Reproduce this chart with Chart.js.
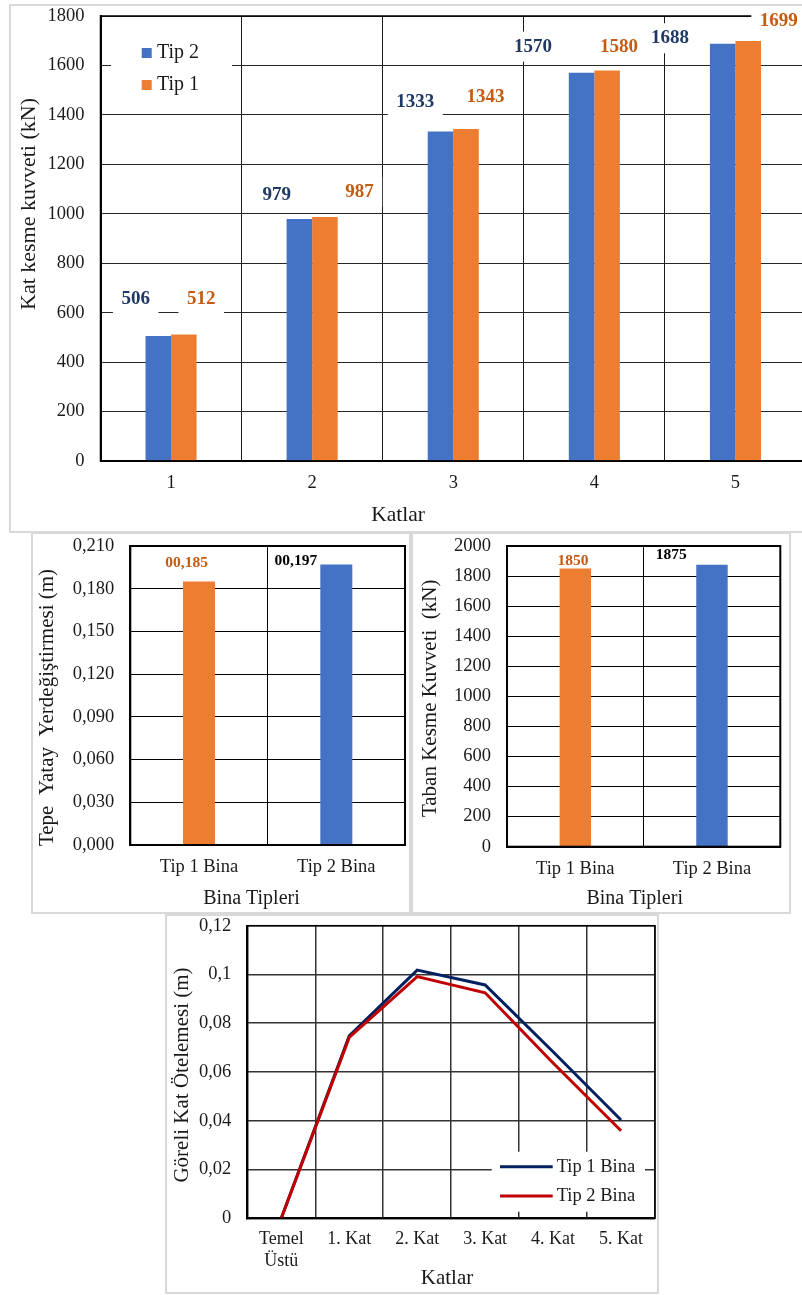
<!DOCTYPE html>
<html>
<head>
<meta charset="utf-8">
<title>Kat kesme kuvvetleri ve ötelemeler</title>
<script src="https://cdn.jsdelivr.net/npm/chart.js@4.4.1/dist/chart.umd.min.js"></script>
<style>
  html, body { margin: 0; padding: 0; background: #fff; }
  body { width: 802px; height: 1295px; overflow: hidden; position: relative; }
  .panel { position: absolute; box-sizing: border-box; border: 2px solid #d9d9d9; background: #fff; }
  .panel canvas { position: absolute; left: 0; top: 0; }
</style>
</head>
<body>
<div class="panel" style="left:9px;top:4px;width:820px;height:529px"><canvas id="storeyShear" width="816" height="525"></canvas></div>
<div class="panel" style="left:31px;top:532px;width:380px;height:382px"><canvas id="topDisp" width="376" height="378"></canvas></div>
<div class="panel" style="left:411px;top:532px;width:380px;height:382px"><canvas id="baseShear" width="376" height="378"></canvas></div>
<div class="panel" style="left:165px;top:914px;width:494px;height:380px"><canvas id="drift" width="490" height="376"></canvas></div>

<script>
// ---- data ----
const storeys = ['1', '2', '3', '4', '5'];
const shearTip2 = [506, 979, 1333, 1570, 1688];
const shearTip1 = [512, 987, 1343, 1580, 1699];
const shearTicks = ['0', '200', '400', '600', '800', '1000', '1200', '1400', '1600', '1800'];

const buildingTypes = ['Tip 1 Bina', 'Tip 2 Bina'];
const topDisplacement = [0.185, 0.197];
const topDispTicks = ['0,000', '0,030', '0,060', '0,090', '0,120', '0,150', '0,180', '0,210'];

const baseShear = [1850, 1875];
const baseShearTicks = ['0', '200', '400', '600', '800', '1000', '1200', '1400', '1600', '1800', '2000'];

const driftLevels = [['Temel', 'Üstü'], '1. Kat', '2. Kat', '3. Kat', '4. Kat', '5. Kat'];
const driftTip1 = [0, 0.0748, 0.1018, 0.0957, 0.0683, 0.0403];
const driftTip2 = [0, 0.0742, 0.0991, 0.0925, 0.0637, 0.0359];
const driftTicks = ['0', '0,02', '0,04', '0,06', '0,08', '0,1', '0,12'];

// ---- styling ----
const SERIF = "'Liberation Serif', 'Times New Roman', serif";
const BLUE = '#4472C4', ORANGE = '#ED7D31';
const NAVY_TXT = '#1F3864', ORANGE_TXT = '#C55A11';
Chart.defaults.font.family = SERIF;
Chart.defaults.color = '#1a1a1a';

// value label nudges (px) relative to the top centre of each bar
const shearLabelShift = [
  [[-22.6, -36.6], [-22.7, -24], [-25.2, -29.8], [-48.7, -26.2], [-52.7, -5.4]],
  [[17.4, -35.1], [34.5, -25.3], [19.5, -32.3], [12, -23.7], [30.6, -20]]
];
const dispLabelShift = [[[-12.3, -18.3], [-40.4, -3.5]]];
const baseLabelShift = [[[-2.3, -7.8], [-40.7, -9.8]]];

function fixW(w) { return s => { s.width = w; s.paddingTop = 0; s.paddingBottom = 0; }; }
function fixH(h) { return s => { s.height = h; s.paddingLeft = 0; s.paddingRight = 0; }; }
function tickFrom(list) { return (v, i) => (list[i] !== undefined ? list[i] : v); }

// outline, floating legend, value labels and axis titles
function decor(cfg) {
  return {
    id: 'decor',
    afterDatasetsDraw(chart) {
      const ctx = chart.ctx, a = chart.chartArea;
      ctx.save();
      if (cfg.outline) {
        ctx.strokeStyle = '#000';
        ctx.lineWidth = cfg.outline;
        ctx.strokeRect(a.left, a.top, a.right - a.left, a.bottom - a.top);
      }
      if (cfg.legend) {
        const L = cfg.legend;
        ctx.fillStyle = '#fff';
        ctx.fillRect(L.box[0], L.box[1], L.box[2], L.box[3]);
        ctx.font = L.size + 'px ' + SERIF;
        ctx.textAlign = 'left';
        ctx.textBaseline = 'middle';
        L.items.forEach(it => {
          if (it.kind === 'square') {
            ctx.fillStyle = it.color;
            ctx.fillRect(it.x, it.y - 5, 10, 10);
          } else {
            ctx.strokeStyle = it.color;
            ctx.lineWidth = 3;
            ctx.beginPath();
            ctx.moveTo(it.x, it.y);
            ctx.lineTo(it.x + it.len, it.y);
            ctx.stroke();
          }
          ctx.fillStyle = '#1a1a1a';
          ctx.fillText(it.text, it.tx, it.y);
        });
      }
      if (cfg.values) {
        const V = cfg.values;
        ctx.font = 'bold ' + V.size + 'px ' + SERIF;
        ctx.textAlign = 'center';
        ctx.textBaseline = 'middle';
        chart.data.datasets.forEach((ds, d) => {
          chart.getDatasetMeta(d).data.forEach((el, i) => {
            const sh = V.shift[d][i];
            const x = el.x + sh[0], y = el.y + sh[1];
            const txt = V.format(ds.data[i]);
            if (V.box) {
              const w = ctx.measureText(txt).width + 17;
              ctx.fillStyle = '#fff';
              ctx.fillRect(x - w / 2, y - 15, w, 30);
            }
            ctx.fillStyle = V.color(d, i);
            ctx.fillText(txt, x, y);
          });
        });
      }
      (cfg.titles || []).forEach(t => {
        ctx.save();
        ctx.font = t.size + 'px ' + SERIF;
        ctx.fillStyle = '#1a1a1a';
        ctx.textAlign = 'center';
        ctx.textBaseline = 'middle';
        ctx.translate(t.x, t.y);
        if (t.rot) ctx.rotate(-Math.PI / 2);
        ctx.fillText(t.text, 0, 0);
        ctx.restore();
      });
      ctx.restore();
    }
  };
}

function yScale(min, max, step, labels, width, gridColor, gridWidth) {
  return {
    min, max,
    ticks: { stepSize: step, padding: 16, font: { size: 18.5 }, callback: tickFrom(labels) },
    grid: { color: gridColor, lineWidth: gridWidth, drawTicks: false },
    border: { color: '#000', width: 2 },
    afterFit: fixW(width)
  };
}
function xScale(pad, height, gridColor, gridWidth, size) {
  return {
    offset: true,
    ticks: { padding: pad, font: { size: size || 18.5 }, maxRotation: 0, autoSkip: false },
    grid: { color: gridColor, lineWidth: gridWidth, drawTicks: false, offset: true },
    border: { color: '#000', width: 2 },
    afterFit: fixH(height)
  };
}
const quiet = { legend: { display: false }, tooltip: { enabled: false } };

// ---- storey shear forces ----
new Chart(document.getElementById('storeyShear'), {
  type: 'bar',
  data: {
    labels: storeys,
    datasets: [
      { label: 'Tip 2', data: shearTip2, backgroundColor: BLUE },
      { label: 'Tip 1', data: shearTip1, backgroundColor: ORANGE }
    ]
  },
  options: {
    responsive: false, animation: false, events: [],
    layout: { padding: { left: 0, top: 10, right: 21, bottom: 0 } },
    datasets: { bar: { categoryPercentage: 0.362, barPercentage: 1 } },
    plugins: quiet,
    scales: {
      x: xScale(11.2, 70, '#1a1a1a', 1),
      y: yScale(0, 1800, 200, shearTicks, 89.5, '#262626', 1)
    }
  },
  plugins: [decor({
    outline: 1.5,
    legend: {
      box: [100, 32, 121, 62], size: 20,
      items: [
        { kind: 'square', color: BLUE, x: 130.7, y: 47, tx: 146, text: 'Tip 2' },
        { kind: 'square', color: ORANGE, x: 130.7, y: 79, tx: 146, text: 'Tip 1' }
      ]
    },
    values: {
      size: 19, box: true, shift: shearLabelShift,
      format: v => String(v),
      color: d => (d === 0 ? NAVY_TXT : ORANGE_TXT)
    },
    titles: [
      { text: 'Kat kesme kuvveti (kN)', x: 18.3, y: 198, rot: true, size: 22 },
      { text: 'Katlar', x: 387, y: 509.5, size: 21.5 }
    ]
  })]
});

// ---- top lateral displacement ----
new Chart(document.getElementById('topDisp'), {
  type: 'bar',
  data: {
    labels: buildingTypes,
    datasets: [{ data: topDisplacement, backgroundColor: [ORANGE, BLUE] }]
  },
  options: {
    responsive: false, animation: false, events: [],
    layout: { padding: { left: 0, top: 12, right: 4, bottom: 0 } },
    datasets: { bar: { categoryPercentage: 1, barPercentage: 0.233 } },
    plugins: quiet,
    scales: {
      x: xScale(10.6, 67, '#000', 1),
      y: yScale(0, 0.21, 0.03, topDispTicks, 97.3, '#000', 1)
    }
  },
  plugins: [decor({
    outline: 2,
    values: {
      size: 15.5, box: false, shift: dispLabelShift,
      format: v => '0' + v.toFixed(3).replace('.', ','),
      color: (d, i) => (i === 0 ? ORANGE_TXT : '#000')
    },
    titles: [
      { text: 'Tepe  Yatay  Yerdeğiştirmesi (m)', x: 14.5, y: 173.5, rot: true, size: 21 },
      { text: 'Bina Tipleri', x: 218.5, y: 364.3, size: 20 }
    ]
  })]
});

// ---- base shear force ----
new Chart(document.getElementById('baseShear'), {
  type: 'bar',
  data: {
    labels: buildingTypes,
    datasets: [{ data: baseShear, backgroundColor: [ORANGE, BLUE] }]
  },
  options: {
    responsive: false, animation: false, events: [],
    layout: { padding: { left: 0, top: 12, right: 8.7, bottom: 0 } },
    datasets: { bar: { categoryPercentage: 1, barPercentage: 0.23 } },
    plugins: quiet,
    scales: {
      x: xScale(11.2, 65.3, '#000', 1),
      y: yScale(0, 2000, 200, baseShearTicks, 94, '#000', 1)
    }
  },
  plugins: [decor({
    outline: 2,
    values: {
      size: 15.5, box: false, shift: baseLabelShift,
      format: v => String(v),
      color: (d, i) => (i === 0 ? ORANGE_TXT : '#000')
    },
    titles: [
      { text: 'Taban Kesme Kuvveti  (kN)', x: 17, y: 164.3, rot: true, size: 21 },
      { text: 'Bina Tipleri', x: 221.7, y: 364.3, size: 20 }
    ]
  })]
});

// ---- relative storey drift ----
new Chart(document.getElementById('drift'), {
  type: 'line',
  data: {
    labels: driftLevels,
    datasets: [
      { label: 'Tip 1 Bina', data: driftTip1, borderColor: '#002060', borderWidth: 3, pointRadius: 0, tension: 0, fill: false, order: 2 },
      { label: 'Tip 2 Bina', data: driftTip2, borderColor: '#C00000', borderWidth: 3, pointRadius: 0, tension: 0, fill: false, order: 1 }
    ]
  },
  options: {
    responsive: false, animation: false, events: [],
    layout: { padding: { left: 0, top: 9.7, right: 2, bottom: 0 } },
    plugins: quiet,
    scales: {
      x: xScale(10.6, 73.7, '#333', 1.5, 18),
      y: yScale(0, 0.12, 0.02, driftTicks, 80.3, '#333', 1.5)
    }
  },
  plugins: [decor({
    outline: 1.5,
    legend: {
      box: [324.7, 235.7, 153.3, 60], size: 18.5,
      items: [
        { kind: 'line', color: '#002060', x: 333, len: 52.7, y: 250.7, tx: 389.7, text: 'Tip 1 Bina' },
        { kind: 'line', color: '#C00000', x: 333, len: 52.7, y: 280, tx: 389.7, text: 'Tip 2 Bina' }
      ]
    },
    titles: [
      { text: 'Göreli Kat Ötelemesi (m)', x: 15, y: 159, rot: true, size: 21 },
      { text: 'Katlar', x: 280, y: 362.3, size: 21 }
    ]
  })]
});
</script>
</body>
</html>
